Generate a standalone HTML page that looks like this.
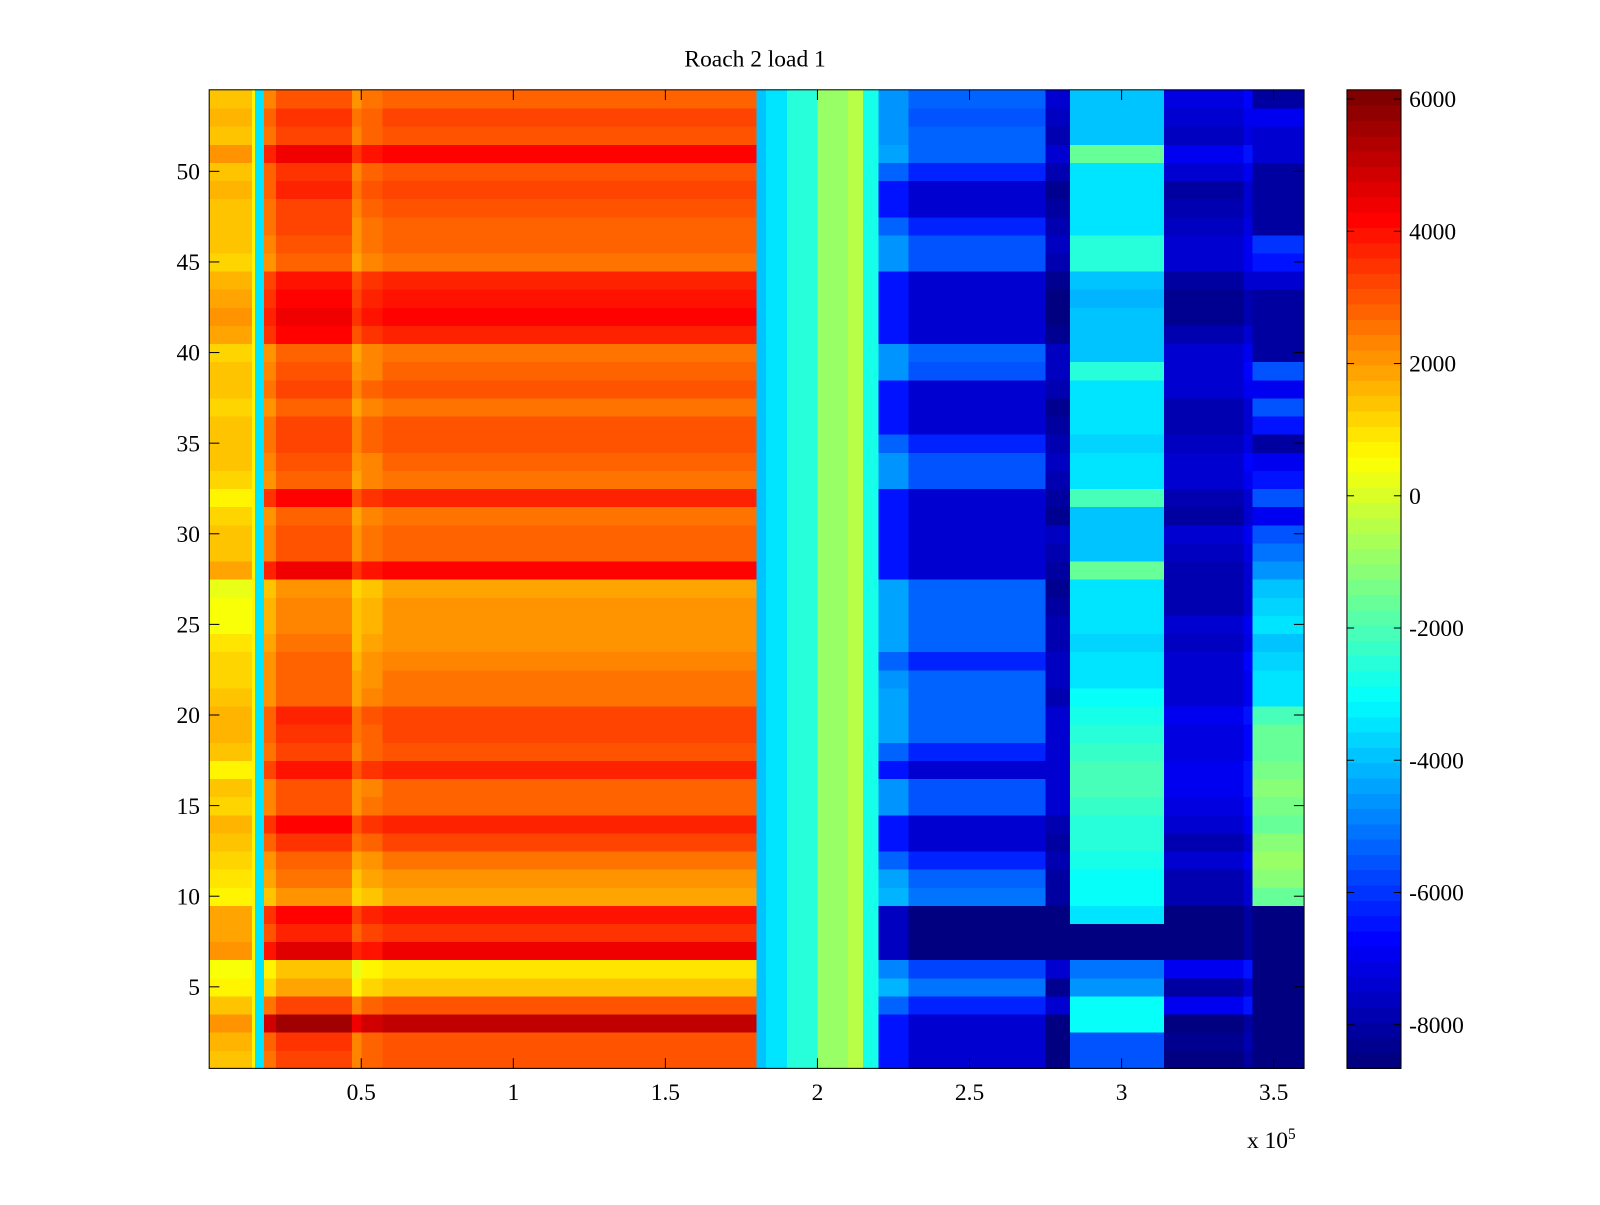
<!DOCTYPE html>
<html><head><meta charset="utf-8"><style>
body{margin:0;background:#fff}
svg text{font-family:"Liberation Serif",serif;font-size:23px;fill:#000}
</style></head><body>
<svg id="c" width="1600" height="1200" viewBox="0 0 1568 1176" xmlns="http://www.w3.org/2000/svg">
<rect width="1568" height="1176" fill="#fff"/>
<g id="heat"></g>
<g id="axes"></g>
<g id="cbar"></g>
<text x="740" y="65" text-anchor="middle">Roach 2 load 1</text>
<text x="1222" y="1125">x 10<tspan dy="-9" font-size="15">5</tspan></text>
</svg>
<script>
// row profiles (rows 1..54, bottom to top)
const orangeRow=[3000,3100,5200,3000,1500,1000,4300,3500,3900,1800,2200,2500,3200,3800,2800,2700,3700,3000,3200,3300,2600,2500,2400,2200,2000,2000,1800,4200,2800,2800,2600,3800,2600,2700,3000,3000,2600,3000,2700,2600,3800,4200,3900,3700,2600,2800,2900,3000,3300,3100,4200,3000,3200,2800];
const leftRow=[1500,1700,2000,1500,600,500,2000,1800,1800,700,900,1200,1500,1700,1200,1300,800,1500,1700,1600,1300,1200,1100,1000,500,400,300,1800,1300,1300,1100,600,1200,1300,1500,1500,1200,1500,1300,1200,1800,2000,1900,1700,1200,1300,1400,1500,1600,1500,2000,1500,1600,1400];
const blueRow=[-7300,-7400,-7300,-6200,-5000,-5800,-8600,-8600,-8600,-5000,-5200,-6200,-7300,-7400,-5500,-5500,-7300,-6200,-5300,-5200,-5300,-5400,-6200,-5300,-5200,-5200,-5300,-7300,-7400,-7300,-7400,-7300,-5500,-5600,-6200,-7300,-7400,-7300,-5500,-5400,-7300,-7400,-7400,-7300,-5500,-5600,-6200,-7300,-7300,-6200,-5300,-5400,-5500,-5400];
const cyanRow=[-5500,-5500,-3000,-3000,-4500,-5000,-8600,-8600,-3500,-3000,-3000,-2800,-2600,-2500,-2200,-2100,-2000,-2200,-2500,-2700,-3000,-3500,-3500,-3600,-3500,-3400,-3500,-1500,-4000,-4000,-4000,-2000,-3500,-3500,-3600,-3500,-3400,-3500,-2500,-4000,-4000,-4000,-4100,-4000,-2500,-2600,-3500,-3500,-3400,-3500,-1500,-4000,-4000,-4000];
const darkRow=[-8600,-8300,-8600,-7000,-8000,-7000,-8600,-8600,-8600,-7800,-7800,-7500,-7800,-7500,-7200,-7000,-7000,-7200,-7200,-7000,-7500,-7400,-7300,-7600,-7500,-7800,-7900,-7800,-7600,-7400,-8000,-7800,-7500,-7300,-7600,-7800,-7900,-7500,-7300,-7400,-7900,-8300,-8400,-8000,-7500,-7400,-7600,-7800,-8000,-7500,-7000,-7600,-7400,-7200];
const farRow=[-8600,-8600,-8600,-8600,-8600,-8600,-8600,-8600,-8600,-1500,-1200,-1000,-1200,-1500,-1400,-1200,-1300,-1500,-1600,-2000,-3500,-3500,-3800,-4000,-3500,-3800,-4000,-4500,-5000,-5500,-7000,-5500,-6500,-7000,-8000,-6500,-5500,-7000,-5500,-8000,-8000,-8000,-8000,-7500,-6500,-6000,-8000,-8000,-8000,-8000,-7500,-7500,-7000,-8000];
const flatRow=Array(54).fill(0);
const profiles=[leftRow,orangeRow,blueRow,cyanRow,darkRow,farRow,flatRow];
// x segments (units of 1e5)
const segStart=[0,0.14,0.15,0.18,0.22,0.47,0.50,0.57,1.80,1.83,1.90,2.00,2.10,2.15,2.20,2.30,2.75,2.83,3.14,3.40,3.43];
const segEnd  =[0.14,0.15,0.18,0.22,0.47,0.50,0.57,1.80,1.83,1.90,2.00,2.10,2.15,2.20,2.30,2.75,2.83,3.14,3.40,3.43,3.60];
const segProfile=[0,6,6,1,1,1,1,1,6,6,6,6,6,6,2,2,4,3,4,4,5];
const segShift=[0,800,-3500,-400,300,-700,-300,0,-3900,-3500,-2500,-1000,-400,-2800,900,0,-300,0,0,500,0];
const xTicks=[0.5,1,1.5,2,2.5,3,3.5];
const xTickLabels=["0.5","1","1.5","2","2.5","3","3.5"];
const yTicks=[5,10,15,20,25,30,35,40,45,50];
const cTicks=[6000,4000,2000,0,-2000,-4000,-6000,-8000];
const cmin=-8660,cmax=6140;
const L=205,R=1278,T=88,B=1047;
const xs=v=>L+(v-0)/(3.6-0)*(R-L);
const ys=v=>B-(v-0.5)/(54-0)*(B-T);
function jet(t){t=Math.max(0,Math.min(1,t));t=Math.floor(t*63.999)/63;
 const f=x=>Math.max(0,Math.min(1,1.5-Math.abs(4*t-x)));
 return `rgb(${Math.round(255*f(3))},${Math.round(255*f(2))},${Math.round(255*f(1))})`;}
const col=v=>jet((v-cmin)/(cmax-cmin));
const NS="http://www.w3.org/2000/svg";
function mk(tag,attrs,parent){const e=document.createElementNS(NS,tag);for(const k in attrs)e.setAttribute(k,attrs[k]);parent.appendChild(e);return e;}
const heat=document.getElementById('heat');
for(let j=0;j<segStart.length;j++){
 const prof=profiles[segProfile[j]];
 for(let i=0;i<54;i++){
  const x0=xs(segStart[j]),x1=xs(segEnd[j]),y0=ys(i+1.5),y1=ys(i+0.5);
  const r=mk('rect',{x:x0,y:y0,width:x1-x0+0.6,height:y1-y0+0.6,fill:col(prof[i]+segShift[j]),'shape-rendering':'crispEdges'},heat);
  
  
 }
}
const ax=document.getElementById('axes');
mk('rect',{x:L,y:T,width:R-L,height:B-T,fill:'none',stroke:'#000','stroke-width':1},ax);
xTicks.forEach((v,k)=>{const x=xs(v);
 mk('line',{x1:x,x2:x,y1:B,y2:B-10,stroke:'#000'},ax);mk('line',{x1:x,x2:x,y1:T,y2:T+10,stroke:'#000'},ax);
 const t=mk('text',{x:x,y:B+31,'text-anchor':'middle'},ax);t.textContent=xTickLabels[k];
 
 });
yTicks.forEach(v=>{const y=ys(v);
 mk('line',{x1:L,x2:L+10,y1:y,y2:y,stroke:'#000'},ax);mk('line',{x1:R,x2:R-10,y1:y,y2:y,stroke:'#000'},ax);
 const t=mk('text',{x:L-9,y:y+8,'text-anchor':'end'},ax);t.textContent=v;
 
 });
const cb=document.getElementById('cbar');const CL=1320,CR=1373;
for(let k=0;k<64;k++){const y0=T+(B-T)*(63-k)/64;
 mk('rect',{x:CL,y:y0,width:CR-CL,height:(B-T)/64+0.6,fill:jet(k/63),'shape-rendering':'crispEdges'},cb);}
mk('rect',{x:CL,y:T,width:CR-CL,height:B-T,fill:'none',stroke:'#000'},cb);
const cy=v=>B-(v-cmin)/(cmax-cmin)*(B-T);
cTicks.forEach(v=>{const y=cy(v);
 mk('line',{x1:CL,x2:CL+7,y1:y,y2:y,stroke:'#000'},cb);mk('line',{x1:CR,x2:CR-7,y1:y,y2:y,stroke:'#000'},cb);
 const t=mk('text',{x:CR+8,y:y+8},cb);t.textContent=v;
 
 });
</script>
</body></html>
